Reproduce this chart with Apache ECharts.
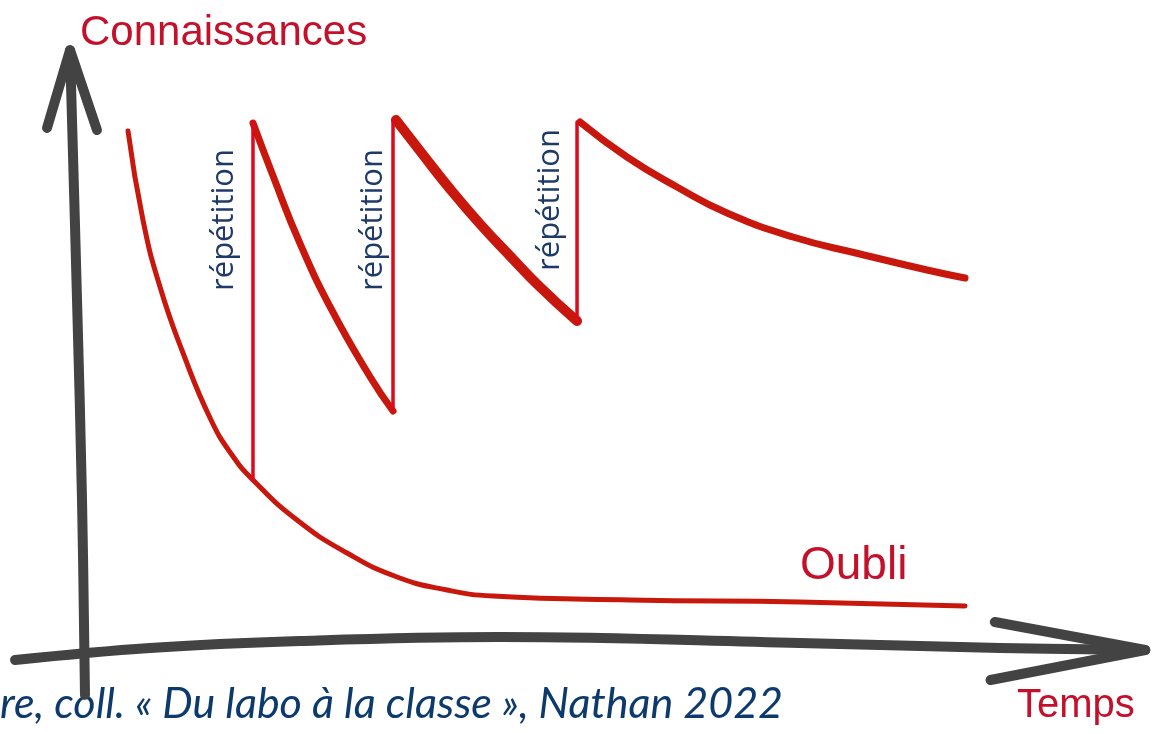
<!doctype html>
<html lang="fr">

<head>
	<meta charset="UTF-8">
	<title>Courbe de l'oubli</title>
	<style>
		html, body { margin: 0; padding: 0; background: #fff; }
		#chart { width: 1152px; height: 734px; }
	</style>
</head>

<body>
	<div id="chart"></div>

	<script src="https://cdn.jsdelivr.net/npm/echarts@6/dist/echarts.min.js"></script>

	<script>
		// ---- données (temps, connaissances en %) ----
		// courbe de l'oubli sans répétition
		var oubliTemps = [0.453, 0.594, 0.755, 0.972, 1.236, 1.434, 1.632, 2.047, 2.519, 2.991, 3.462, 3.896, 5.189, 6.792, 8.349]
		var oubliConn = [97.9, 80.95, 68.19, 55.62, 42.86, 36.19, 31.43, 23.81, 17.52, 12.95, 10.48, 9.33, 8.57, 8.19, 7.43]

		// après la 1re répétition
		var rep1Temps = [1.632, 1.824, 2.075, 2.375, 2.736, 2.953]
		var rep1Conn = [99.43, 89.2, 76.51, 63.81, 51.1, 44.57]

		// après la 2e répétition
		var rep2Temps = [2.981, 3.208, 3.491, 3.774, 4.057, 4.340, 4.689]
		var rep2Conn = [100, 94.1, 86.86, 80.19, 74.1, 68.19, 61.71]

		// après la 3e répétition
		var rep3Temps = [4.717, 5.160, 5.632, 6.104, 6.726, 7.358, 7.991, 8.349]
		var rep3Conn = [99.62, 92.95, 87.24, 82.29, 77.71, 74.48, 71.43, 69.9]

		// moments des répétitions (traits verticaux)
		var repetitionTemps = [1.632, 2.953, 4.689]
		var repetitionBas = [31.43, 44.57, 61.71]
		var repetitionHaut = [99.62, 100, 99.62]

		// axes dessinés à la main (flèches)
		var axeYTemps = [-0.094, -0.028, 0.019, 0.047]
		var axeYConn = [113.3, 65.7, 27.6, -9.5]
		var flecheYTemps = [-0.311, -0.094, 0.16]
		var flecheYConn = [98.5, 113.3, 98.1]
		var axeXTemps = [-0.613, 0.66, 2.075, 3.96, 6.79, 8.68, 10.05]
		var axeXConn = [-2.86, -0.57, 0.76, 1.52, 0.38, -0.57, -0.95]
		var flecheXTemps = [8.63, 10.05, 8.59]
		var flecheXConn = [4.38, -0.95, -6.67]

		function zip(a, b) {
			return a.map(function (v, i) { return [v, b[i]] })
		}

		var rouge = '#c8170c'
		var rougeVif = '#dc0a1a'
		var gris = '#434343'
		var texteRouge = '#c4102a'
		var texteBleu = '#1f3a68'

		var chart = echarts.init(document.getElementById('chart'))

		var series = []

		function courbe(data, width, color, smooth) {
			series.push({
				type: 'line',
				data: data,
				smooth: smooth,
				symbol: 'none',
				clip: false,
				silent: true,
				lineStyle: { color: color, width: width, cap: 'round', join: 'round' }
			})
		}

		// axes
		courbe(zip(axeYTemps, axeYConn), 10, gris, 0.4)
		courbe(zip(flecheYTemps, flecheYConn), 10, gris, false)
		courbe(zip(axeXTemps, axeXConn), 10, gris, 0.4)
		courbe(zip(flecheXTemps, flecheXConn), 10, gris, false)

		// courbes
		courbe(zip(oubliTemps, oubliConn), 5, rouge, 0.5)
		courbe(zip(rep1Temps, rep1Conn), 7, rouge, 0.5)
		courbe(zip(rep2Temps, rep2Conn), 10, rouge, 0.5)
		courbe(zip(rep3Temps, rep3Conn), 7, rouge, 0.5)

		repetitionTemps.forEach(function (t, i) {
			courbe([[t, repetitionBas[i]], [t, repetitionHaut[i]]], 3.5, rougeVif, false)
		})

		function etiquette(x, y) {
			return {
				type: 'text', x: x, y: y, rotation: Math.PI / 2,
				style: { text: 'répétition', fill: texteBleu, font: '31px "Open Sans"', align: 'center', verticalAlign: 'middle' }
			}
		}

		var option = {
			animation: false,
			// le repère couvre toute la page : origine des axes à (80, 645)
			grid: { left: 0, right: 0, top: 0, bottom: 0 },
			xAxis: { type: 'value', min: -80 / 106, max: 1072 / 106, show: false },
			yAxis: { type: 'value', min: -89 / 5.25, max: 645 / 5.25, show: false },
			series: series,
			graphic: [
				{
					type: 'text', left: 80, top: 12,
					style: { text: 'Connaissances', fill: texteRouge, font: '42px "Liberation Sans"' }
				},
				{
					type: 'text', left: 1017, top: 686,
					style: { text: 'Temps', fill: texteRouge, font: '40px "Liberation Sans"' }
				},
				{
					type: 'text', left: 800, top: 543,
					style: { text: 'Oubli', fill: texteRouge, font: '46px "Liberation Sans"' }
				},
				etiquette(224, 220),
				etiquette(373, 220),
				etiquette(550, 200),
				{
					type: 'text', left: 0, top: 683,
					style: { text: 're, coll. « Du labo à la classe », Nathan 2022', fill: '#0d3a6c', font: 'italic 43px Lato' }
				}
			]
		}

		chart.setOption(option)
	</script>

</body>

</html>
